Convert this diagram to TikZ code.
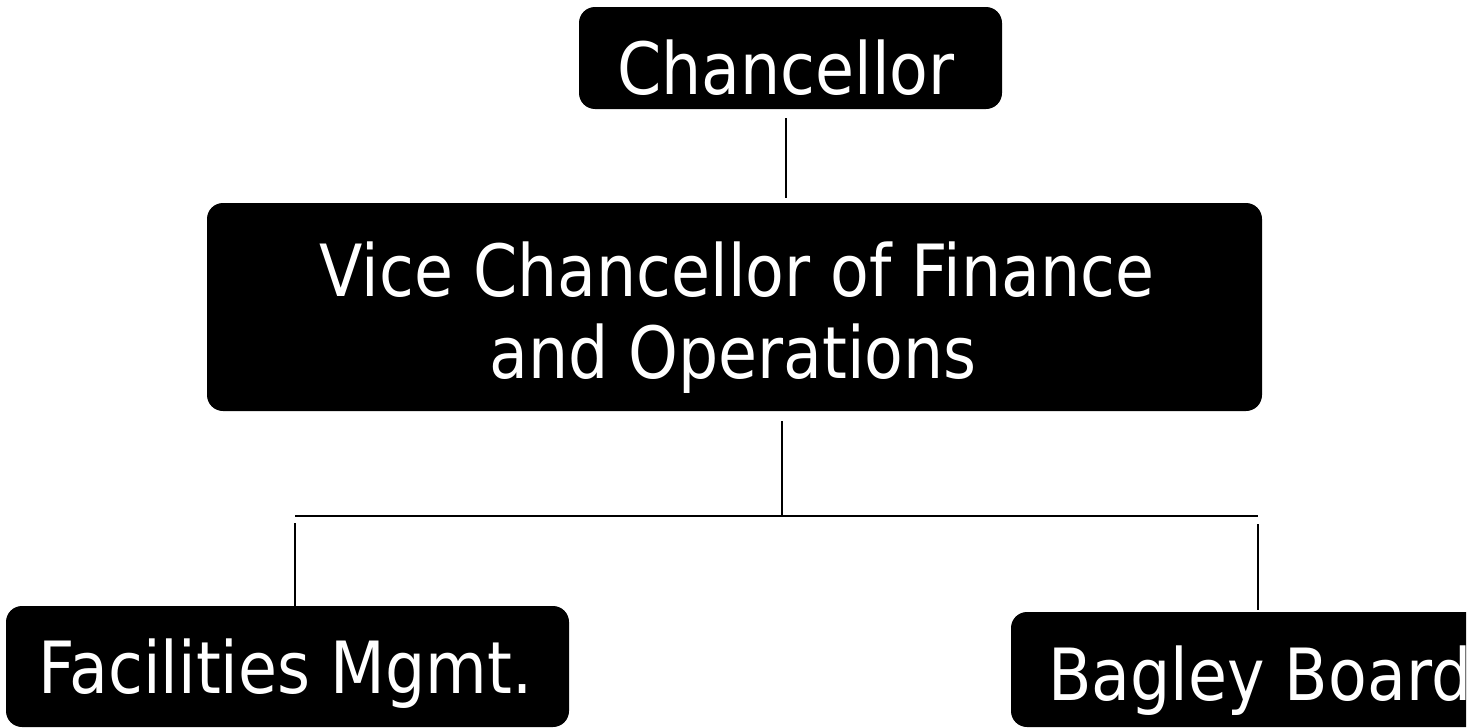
\documentclass[tikz,border=0pt]{standalone}
\usepackage{fontspec}
\newfontfamily\tfont[FakeStretch=0.88]{DejaVu Sans}
\begin{document}
\begin{tikzpicture}[x=1pt,y=-1pt,
  orgbox/.style={draw=none,fill=black,rounded corners=16pt,inner sep=0pt},
  orgtext/.style={text=white,anchor=base,inner sep=0pt,font=\tfont\fontsize{72}{82}\selectfont},
  link/.style={line width=1.6pt,draw=black}]
\useasboundingbox (0,0) rectangle (1483,728);
% boxes
\node[orgbox,minimum width=423pt,minimum height=102pt] (ch) at (790.5,58) {};
\node[orgbox,minimum width=1055pt,minimum height=208pt] (vc) at (734.5,307) {};
\node[orgbox,minimum width=563pt,minimum height=121pt] (fm) at (287.5,666.5) {};
\begin{scope}
\clip (0,0) rectangle (1466,728);
\node[orgbox,minimum width=510pt,minimum height=115pt] (bb) at (1266,669.5) {};
\node[orgtext,anchor=base west] (bbt) at (1048,700) {Bagley Board};
\end{scope}
% texts
\node[orgtext] (cht) at (786,94) {Chancellor};
\node[orgtext] (vct1) at (737,296) {Vice Chancellor of Finance};
\node[orgtext] (vct2) at (733,378) {and Operations};
\node[orgtext] (fmt) at (285.5,693) {Facilities Mgmt.};
% connectors
\coordinate (c1) at (786,0);
\coordinate (c2) at (782,0);
\coordinate (bus) at (782,516);
\coordinate (busL) at (295,516);
\coordinate (busR) at (1258,516);
\draw[link,shorten <=9pt,shorten >=5pt] (c1 |- ch.south) -- (c1 |- vc.north);
\draw[link,shorten <=10pt] (c2 |- vc.south) -- (bus);
\draw[link] (busL) -- (busR);
\draw[link,shorten <=7pt] (busL) -- (busL |- fm.north);
\draw[link,shorten <=8pt,shorten >=2pt] (busR) -- (busR |- bb.north);
\end{tikzpicture}
\end{document}
